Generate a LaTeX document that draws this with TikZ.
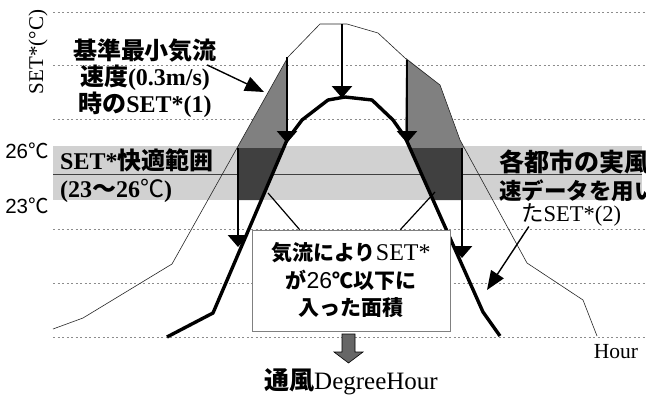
\documentclass[tikz,border=0pt]{standalone}
\usepackage{fontspec}
\setmainfont{Liberation Serif}
\setsansfont{Liberation Sans}
\newfontfamily\jpfont{Noto Sans CJK JP}
\usetikzlibrary{arrows.meta}
\newcommand{\jb}[1]{{\jpfont\bfseries #1}}
\newcommand{\jr}[1]{{\jpfont #1}}

\begin{document}
\begin{tikzpicture}[x=1pt,y=-1pt,
    gridline/.style={black!45, line width=0.5pt, dash pattern=on 2pt off 2.5pt},
    lightzone/.style={fill=black!50},
    darkzone/.style={fill=black!75},
    basecurve/.style={black!85, line width=0.6pt, line join=round},
    citycurve/.style={black, line width=3.4pt, line join=round},
    drop/.style={black, line width=2.8pt, -{Triangle[width=20pt,length=12pt]}},
    callout/.style={black, line width=1.4pt, -{Triangle[width=15pt,length=19pt]}},
    leader/.style={black, line width=1.2pt},
    lbl/.style={font=\fontsize{24}{26.5}\selectfont, align=center, inner sep=0pt},
    bandlbl/.style={font=\fontsize{24}{28}\selectfont, align=left, inner sep=0pt, anchor=west},
    templbl/.style={font=\sffamily\fontsize{20.5}{22}\selectfont, inner sep=0pt},
    areabox/.style={draw=black!50, line width=0.7pt, fill=white, minimum width=198pt,
        minimum height=101pt, align=center, font=\fontsize{21}{27.5}\selectfont}
]

        % Page frame
        \useasboundingbox (0,0) rectangle (646,399);
        \fill[white] (0,0) rectangle (646,399);

        % Comfort band and grid lines
        \fill[black!18] (53,146) rectangle (642,200);
        \foreach \gy in {12,65,119,229,283,337} {
            \draw[gridline] (53,\gy) -- (646,\gy);
        }
        \draw[black!75, line width=0.8pt] (53,174) -- (642,174);

        % Shaded areas between the two curves
        \fill[lightzone] (288,57) -- (237,148) -- (284,148) -- (287,140) -- cycle;
        \fill[darkzone] (238,148) -- (284,148) -- (261,200) -- (238,200) -- cycle;
        \fill[lightzone] (406,58) -- (440,85) -- (460,140) -- (464,148) -- (410,148) -- (405,137) -- cycle;
        \fill[darkzone] (410,148) -- (462,148) -- (462,200) -- (433,200) -- cycle;

        % SET*(1) and SET*(2) curves
        \draw[basecurve] (53,329) -- (83,318) -- (172,264) -- (288,57) -- (320,24) -- (347,24)
            -- (378,33) -- (405,58) -- (440,85) -- (460,140) -- (527,263) -- (583,300) -- (597,336);
        \draw[citycurve] (167,337) -- (213,313) -- (287,140) -- (302,120) -- (328,100) -- (345,97)
            -- (372,100) -- (393,120) -- (405,137) -- (483,312) -- (500,336);

        % Drops of SET* by the air flow
        \foreach \dx/\dtop/\dtip in {287/57/143, 238/148/247, 342/24/98, 407/60/143, 462/148/258} {
            \draw[drop] (\dx,\dtop) -- (\dx,\dtip);
        }

        % Axis and band labels
        \node[rotate=90, inner sep=0pt, font=\fontsize{21}{24}\selectfont] (lblAxis) at (38,52) {SET*(°C)};
        \node[templbl] (t26) at (27,151) {26\jr{℃}};
        \node[templbl] (t23) at (27,206) {23\jr{℃}};
        \node[bandlbl] (lblBand) at (60,176) {\textbf{SET*}\jb{快適範囲}\\\textbf{(23}\jb{～}\textbf{26}\jr{℃}\textbf{)}};
        \node[bandlbl] (lblCity) at (499,176) {{\fontsize{25}{28}\selectfont\jb{各都市の実風}}\\{\fontsize{22.5}{28}\selectfont\jb{速データを用い}}};
        \node[lbl, font=\fontsize{22.5}{24}\selectfont] (lblSet2) at (571,215) {\jr{た}SET*(2)};
        \node[lbl, font=\fontsize{21.5}{24}\selectfont] (lblHour) at (616,352) {Hour};

        % Reference curve label
        \node[lbl] (lblBase) at (145,78) {\jb{基準最小気流}\\\jb{速度}\textbf{(0.3m/s)}\\\jb{時の}\textbf{SET*(1)}};
        \coordinate (tipBase) at (264,92);
        \draw[callout] ([shift={(-10pt,13pt)}]lblBase.east) -- (tipBase);
        \coordinate (tipSet2) at (487,290);
        \draw[callout] ([xshift=8pt]lblSet2.south west) -- (tipSet2);

        % Area box with its leader lines
        \node[areabox] (boxArea) at (351,280.5) {\jb{気流により}{\fontsize{24}{27.5}\selectfont SET*}\\
            \jb{が}{\sffamily\fontsize{23}{27.5}\selectfont 26}\jb{℃以下に}\\\jb{入った面積}};
        \coordinate (darkL) at (268,193);
        \coordinate (darkR) at (435,192);
        \draw[leader] ([xshift=48pt]boxArea.north west) -- (darkL);
        \draw[leader] ([xshift=-50pt]boxArea.north east) -- (darkR);

        % Result
        \draw[fill=black!60, line width=0.6pt] (342,334) -- (355,334) -- (355,352) -- (363,352)
            -- (348.5,363) -- (334,352) -- (342,352) -- cycle;
        \node[lbl, font=\fontsize{25}{27}\selectfont] (lblDH) at (351,382) {\jb{通風}DegreeHour};

\end{tikzpicture}
\end{document}
